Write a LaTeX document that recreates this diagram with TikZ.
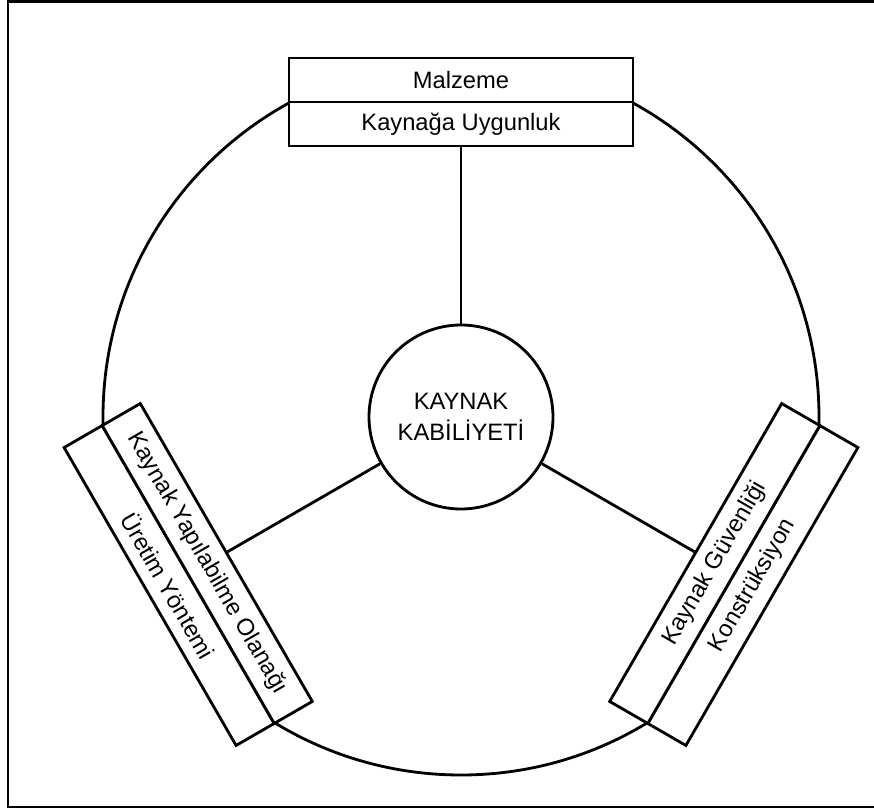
\documentclass[tikz,border=0pt]{standalone}
\usepackage{fontspec}
\setmainfont{Liberation Sans}
\usetikzlibrary{calc}
\tikzset{
    part/.style={draw, fill=white, line width=1.6pt, minimum width=6.88cm, minimum height=0.88cm, inner sep=0pt, font=\fontsize{13.5}{16}\selectfont},
    spoke/.style={line width=1.6pt},
    hub/.style={circle, draw, fill=white, line width=1.6pt, minimum size=3.68cm, align=center, font=\fontsize{13.5}{17.5}\selectfont}
}
\begin{document}
\begin{tikzpicture}
            \useasboundingbox (0, 0) rectangle (17.48, 16.18);
            \draw[line width=1.2pt] (17.48, 16.15) -- (0.16, 16.15) -- (0.16, 0.04) -- (17.48, 0.04);

            \coordinate (o) at (9.22, 7.84);
            \draw[spoke] (o) circle (7.16);

            \node[part] (malzeme) at ($(o) + (90:6.74)$) {Malzeme};
            \node[part] (uygunluk) at ($(o) + (90:5.86)$) {Kaynağa Uygunluk};

            \node[part, rotate=-60] (uretim) at ($(o) + (210:6.74)$) {Üretim Yöntemi};
            \node[part, rotate=-60] (olanak) at ($(o) + (210:5.86)$) {Kaynak Yapılabilme Olanağı};

            \node[part, rotate=60] (konstruksiyon) at ($(o) + (330:6.74)$) {Konstrüksiyon};
            \node[part, rotate=60] (guvenlik) at ($(o) + (330:5.86)$) {Kaynak Güvenliği};

            \node[hub] (kabiliyet) at (o) {KAYNAK\\KABİLİYETİ};

            \draw[spoke] (kabiliyet) -- (uygunluk);
            \draw[spoke] (kabiliyet) -- (olanak);
            \draw[spoke] (kabiliyet) -- (guvenlik);
        \end{tikzpicture}
\end{document}
